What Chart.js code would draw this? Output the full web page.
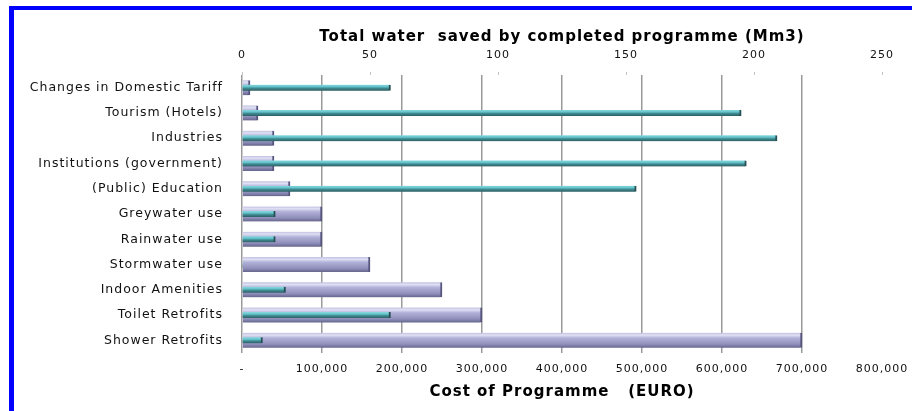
<!DOCTYPE html>
<html>
<head>
<meta charset="utf-8">
<script src="https://cdn.jsdelivr.net/npm/chart.js@4"></script>
<style>
  html, body { margin: 0; padding: 0; background: #fff; }
  #wrap { position: relative; width: 912px; height: 411px; overflow: hidden; }
  #chart { position: absolute; left: 0; top: 0; }
  .frame-top { position: absolute; left: 9px; top: 6px; width: 903px; height: 4px; background: #0000ff; }
  .frame-left { position: absolute; left: 9px; top: 6px; width: 5px; height: 405px; background: #0000ff; }
</style>
</head>
<body>
<div id="wrap">
  <canvas id="chart" width="912" height="411"></canvas>
  <div class="frame-top"></div>
  <div class="frame-left"></div>
</div>
<script>
const programmes = ['Changes in Domestic Tariff', 'Tourism (Hotels)', 'Industries', 'Institutions (government)',
  '(Public) Education', 'Greywater use', 'Rainwater use', 'Stormwater use', 'Indoor Amenities',
  'Toilet Retrofits', 'Shower Retrofits']

// cost of each programme, EURO
const cost = [10000, 20000, 40000, 40000, 60000, 100000, 100000, 160000, 250000, 300000, 700000]
// total water saved once completed, Mm3
const waterSaved = [58, 195, 209, 197, 154, 13, 13, 0, 17, 58, 8]

const costTicks = [0, 100000, 200000, 300000, 400000, 500000, 600000, 700000, 800000]
const waterTicks = [0, 50, 100, 150, 200, 250]

const FONT = "'DejaVu Sans', sans-serif"

// vertical gradient centred on each bar row, for the shaded 3D look
function rowGradient(stops, half) {
  const flat = stops[Math.floor(stops.length / 2)][1]
  return (c) => {
    const chart = c.chart
    const y = chart.scales.y
    if (!y || c.dataIndex === undefined) return flat
    const mid = y.getPixelForValue(c.dataIndex)
    if (!isFinite(mid)) return flat
    const g = chart.ctx.createLinearGradient(0, mid - half, 0, mid + half)
    stops.forEach(s => g.addColorStop(s[0], s[1]))
    return g
  }
}

// spread the glyphs a little, the text in this chart is wide
const spacing = {
  id: 'spacing',
  beforeUpdate(chart) { chart.ctx.letterSpacing = '1px' },
  beforeLayout(chart) { chart.ctx.letterSpacing = '1px' },
  beforeDraw(chart) { chart.ctx.letterSpacing = '1px' }
}

// both value axes share the same plot width
function fixHorizontal(height) {
  return (s) => {
    s.height = height
    s.paddingLeft = 0
    s.paddingRight = 0
  }
}

new Chart('chart', {
  type: 'bar',
  data: {
    labels: programmes,
    datasets: [
      {
        label: 'Total water saved (Mm3)',
        data: waterSaved,
        xAxisID: 'x2',
        barThickness: 6,
        backgroundColor: rowGradient([[0, '#8ad8de'], [0.35, '#62c2ca'], [0.6, '#3f8a90'], [1, '#2c5e63']], 3),
        borderColor: '#244f53',
        borderWidth: { right: 2 },
        borderSkipped: false,
        order: 0
      },
      {
        label: 'Cost of Programme (EURO)',
        data: cost,
        xAxisID: 'x',
        barThickness: 15,
        backgroundColor: rowGradient([[0, '#c0c0e2'], [0.15, '#e0e0f4'], [0.35, '#b0b0d8'], [0.75, '#9090bc'], [1, '#64648c']], 7.5),
        borderColor: '#55557e',
        borderWidth: { right: 2 },
        borderSkipped: false,
        order: 1
      }
    ]
  },
  options: {
    indexAxis: 'y',
    responsive: false,
    animation: false,
    datasets: { bar: { grouped: false } },
    layout: { padding: { left: 0, right: 30, top: 0, bottom: 0 } },
    plugins: { legend: { display: false }, tooltip: { enabled: false } },
    scales: {
      y: {
        grid: { display: false },
        border: { display: false },
        ticks: { color: '#111', padding: 11, font: { family: FONT, size: 12.5 } },
        afterFit(s) { s.width = 242 }
      },
      x: {
        position: 'bottom',
        min: 0,
        max: 800000,
        afterBuildTicks(s) { s.ticks = costTicks.map(v => ({ value: v })) },
        grid: {
          drawTicks: false,
          lineWidth: 1.5,
          color: (c) => c.tick && c.tick.value === 800000 ? 'rgba(0,0,0,0)' : '#9a9a9a'
        },
        border: { display: false },
        ticks: {
          color: '#111',
          padding: 10,
          maxRotation: 0,
          font: { family: FONT, size: 11 },
          callback: (v) => v === 0 ? '-' : v.toLocaleString('en-US')
        },
        title: {
          display: true,
          text: 'Cost of Programme   (EURO)',
          color: '#000',
          font: { family: FONT, size: 15, weight: 'bold' },
          padding: { top: 0, bottom: 10 }
        },
        afterFit: fixHorizontal(58)
      },
      x2: {
        position: 'top',
        min: 0,
        max: 250,
        afterBuildTicks(s) { s.ticks = waterTicks.map(v => ({ value: v })) },
        grid: { drawOnChartArea: false, drawTicks: true, tickLength: 3, tickColor: '#c4c4c4' },
        border: { display: false },
        ticks: { color: '#111', padding: 10, maxRotation: 0, font: { family: FONT, size: 11 } },
        title: {
          display: true,
          text: 'Total water  saved by completed programme (Mm3)',
          color: '#000',
          font: { family: FONT, size: 15, weight: 'bold' },
          padding: { top: 28, bottom: 0 }
        },
        afterFit: fixHorizontal(75)
      }
    }
  },
  plugins: [spacing]
})
</script>
</body>
</html>
